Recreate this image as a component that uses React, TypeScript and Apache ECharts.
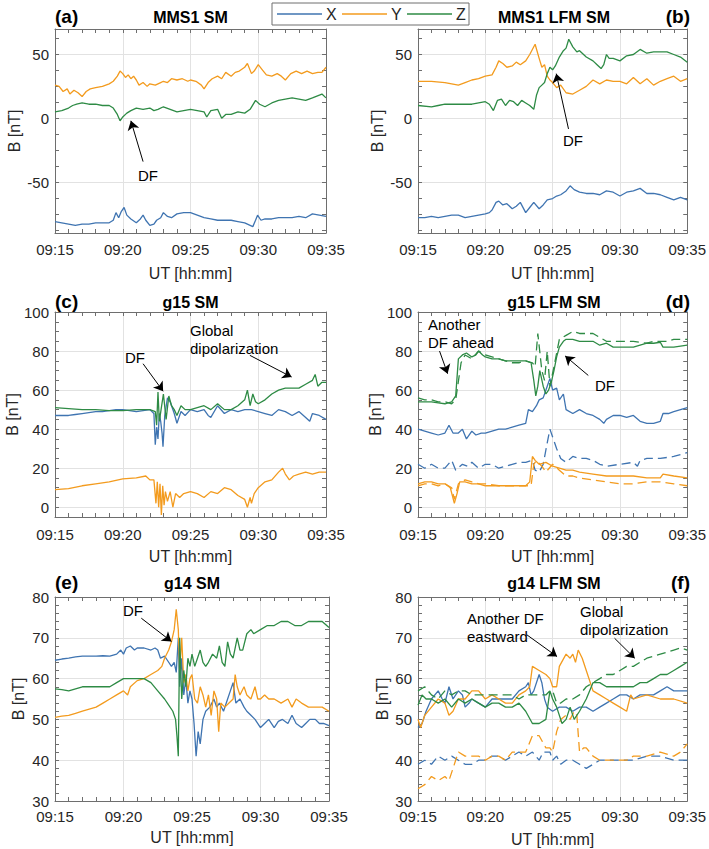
import React, { useEffect, useRef } from "react";
import * as echarts from "echarts";

type P = [number, number][];

// ---- data (time in minutes after 09:00, B in nT) ----
const aX: P = [[15,-81],[15.5,-82],[16,-83],[16.5,-84],[17,-83],[17.5,-83],[18,-82],[18.5,-82],[19,-82],[19.3,-80],[19.5,-74],[19.7,-78],[19.9,-73],[20.1,-70],[20.3,-76],[20.6,-79],[21,-82],[21.3,-79],[21.5,-76],[21.7,-80],[22,-84],[22.3,-83],[22.5,-80],[22.8,-78],[23,-74],[23.3,-77],[23.6,-78],[24,-75],[24.5,-74],[25,-74],[25.5,-76],[26,-78],[26.5,-79],[27,-80],[27.5,-80],[28,-80],[28.5,-81],[29,-82],[29.4,-84],[29.6,-85],[29.8,-80],[29.95,-76],[30.2,-80],[30.5,-79],[31,-79],[31.5,-78],[32,-78],[32.5,-78],[33,-77],[33.5,-78],[34,-75],[34.5,-76],[35,-77]];
const aY: P = [[15,26],[15.3,25],[15.6,21],[15.9,23],[16.1,19],[16.4,22],[16.7,20],[17,17],[17.3,21],[17.6,23],[18,24],[18.5,25],[19,27],[19.3,29],[19.6,33],[19.8,37],[20,35],[20.2,32],[20.4,34],[20.6,31],[20.8,33],[21,30],[21.2,26],[21.5,28],[21.8,25],[22,27],[22.4,26],[22.8,28],[23,29],[23.3,28],[23.6,31],[24,30],[24.4,31],[24.8,29],[25,30],[25.4,29],[25.8,26],[26,23],[26.3,28],[26.6,31],[27,33],[27.3,31],[27.6,36],[28,33],[28.3,36],[28.6,37],[29,40],[29.2,43],[29.5,35],[29.7,37],[30,42],[30.3,38],[30.6,34],[31,33],[31.4,35],[31.7,33],[32,30],[32.4,35],[32.8,37],[33.2,35],[33.6,37],[34,35],[34.4,36],[34.7,36],[35,40]];
const aZ: P = [[15,5],[15.5,6],[16,8],[16.3,10],[16.6,11],[17,12],[17.5,11],[18,11],[18.5,10],[19,10],[19.3,8],[19.6,3],[19.8,-2],[20,1],[20.3,4],[20.6,6],[21,8],[21.5,7],[22,8],[22.3,6],[22.6,7],[23,9],[23.5,7],[24,5],[24.5,6],[25,7],[25.5,6],[26,5],[26.2,1],[26.5,6],[27,7],[27.3,0],[27.6,3],[28,3],[28.5,5],[29,4],[29.4,7],[29.8,14],[30.1,11],[30.5,9],[31,12],[31.5,14],[32,15],[32.5,16],[33,15],[33.5,14],[34,16],[34.7,19],[35,16]];

const bX: P = [[15,-78],[15.5,-78],[16,-77],[16.5,-78],[17,-77],[17.5,-76],[18,-76],[18.5,-78],[19,-77],[19.5,-76],[20,-75],[20.3,-74],[20.5,-72],[20.8,-66],[21,-65],[21.3,-68],[21.6,-67],[22,-71],[22.3,-69],[22.6,-66],[23,-74],[23.3,-70],[23.6,-66],[24,-71],[24.3,-68],[24.6,-64],[25,-63],[25.3,-61],[25.6,-60],[26,-57],[26.3,-53],[26.6,-56],[27,-58],[27.5,-59],[28,-59],[28.5,-60],[29,-57],[29.5,-58],[30,-61],[30.5,-58],[31,-57],[31.5,-55],[32,-59],[32.5,-59],[33,-60],[33.5,-62],[34,-64],[34.5,-62],[35,-64]];
const bY: P = [[15,29],[16,29],[17,28],[17.5,27],[18,26],[18.5,28],[19,30],[19.5,31],[20,33],[20.5,34],[20.8,40],[21,45],[21.3,43],[21.6,40],[22,41],[22.3,44],[22.6,42],[23,45],[23.3,50],[23.7,58],[24,47],[24.2,40],[24.4,42],[24.6,33],[24.8,30],[25,28],[25.3,24],[25.6,26],[26,20],[26.5,19],[27,22],[27.5,25],[28,30],[28.5,27],[29,30],[29.5,29],[30,29],[30.5,27],[31,32],[31.5,27],[32,31],[32.5,26],[33,29],[33.5,31],[34,33],[34.5,29],[35,31]];
const bZ: P = [[15,10],[16,9],[16.5,10],[17,11],[18,11],[19,11],[19.5,12],[20,13],[20.3,11],[20.6,6],[20.9,14],[21.2,15],[21.5,10],[21.8,14],[22.1,13],[22.4,10],[22.7,14],[23,12],[23.3,10],[23.6,7],[23.8,18],[24,24],[24.2,26],[24.4,28],[24.6,35],[24.8,40],[25,38],[25.2,41],[25.5,48],[25.8,53],[26,55],[26.2,62],[26.5,56],[26.8,52],[27,53],[27.5,48],[28,45],[28.3,42],[28.6,39],[28.8,42],[29,50],[29.2,47],[29.5,47],[30,45],[30.5,49],[31,50],[31.5,54],[32,51],[32.5,52],[33,52],[33.5,52],[34,50],[34.5,48],[35,44]];

const cX: P = [[15,47],[15.5,47],[16,47],[16.5,47.5],[17,48],[17.5,48.5],[18,49],[18.5,49],[19,49.5],[19.5,50],[20,50],[20.5,49.5],[21,49],[21.5,49.5],[22,50],[22.3,48],[22.4,32],[22.5,41],[22.6,35],[22.7,48],[22.8,44],[22.9,38],[22.97,31],[23.1,47],[23.3,56],[23.5,54],[23.8,48],[24,43],[24.3,49],[24.6,47],[25,50],[25.5,49],[26,50],[26.3,47],[26.5,46],[27,52],[27.5,48],[28,50],[28.5,49],[29,50],[29.5,50],[30,49],[30.5,48],[31,47],[31.5,50],[32,49],[32.5,47],[33,49],[33.5,46],[33.8,44],[34,48],[34.5,47],[35,45]];
const cY: P = [[15,9],[16,9.5],[17,11],[18,12],[19,13],[20,14.5],[21,15],[21.7,16],[22,14],[22.3,14],[22.45,2],[22.55,13],[22.65,0],[22.75,12],[22.85,-4],[22.95,11],[23.05,1],[23.15,8],[23.3,3],[23.5,8],[23.7,0],[23.9,7],[24.2,5],[24.5,7],[25,8],[25.5,7],[26,5],[26.5,8],[27,7],[27.5,10],[28,9],[28.5,6],[29,4],[29.2,0],[29.4,5],[29.5,2],[29.7,7],[30,10],[30.5,13],[31,14],[31.5,18],[31.8,20],[32,17],[32.3,14],[32.6,16],[33,17],[33.5,18],[34,17],[34.5,18],[35,18]];
const cZ: P = [[15,51],[16,50.5],[17,50],[18,50],[19,49.5],[20,49.5],[21,50],[22,50],[22.4,49],[22.5,42],[22.6,59],[22.7,44],[22.85,51],[23.0,58],[23.2,45],[23.4,57],[23.6,52],[23.8,50],[24,47],[24.3,52],[24.6,50],[25,50],[25.5,51],[26,52],[26.5,50],[27,53],[27.5,50],[28,50],[28.5,52],[29,55],[29.2,60],[29.4,52],[29.6,58],[29.8,54],[30,53],[30.5,55],[31,58],[31.5,60],[32,61],[32.5,61],[33,61],[33.5,63],[34,65],[34.2,68],[34.4,62],[34.7,64],[35,64]];

const dX: P = [[15,40],[15.5,39],[16,38],[16.5,37],[17,38],[17.3,42],[17.6,38],[18,38],[18.3,40],[18.6,35],[19,39],[19.3,37],[19.7,38],[20,38],[20.5,39],[21,40],[21.5,40],[22,41],[22.5,42],[23,43],[23.2,50],[23.5,49],[23.8,52],[24,55],[24.3,56],[24.6,62],[24.8,66],[25,60],[25.3,61],[25.5,55],[25.8,58],[26,50],[26.5,48],[27,50],[27.5,48],[28,47],[28.5,45],[28.8,43],[29,45],[29.5,47],[30,47],[30.5,46],[31,47],[31.5,44],[32,43],[32.5,43],[33,44],[33.2,48],[33.6,48],[34,49],[34.5,50],[35,51]];
const dXm: P = [[15,22],[15.5,20],[16,22],[16.5,20],[17,20],[17.5,24],[17.8,19],[18.3,22],[18.7,21],[19,23],[19.5,20],[20,22],[20.5,22],[21,20],[21.5,21],[22,22],[22.5,23],[23,23],[23.5,24],[23.7,19],[24,18],[24.3,22],[24.6,33],[24.8,40],[25,36],[25.3,30],[25.6,25],[26,23],[26.5,26],[27,25],[27.5,25],[28,24],[28.5,22],[29,21],[30,22],[31,23],[31.3,21],[31.5,24],[32,25],[33,25],[34,26],[35,28]];
const dY: P = [[15,12],[15.5,13],[16,13],[16.5,12],[17,12],[17.4,10],[17.7,2],[17.9,7],[18.1,13],[18.5,13],[19,12],[19.5,12],[20,11],[21,11],[22,11],[23,11],[23.3,13],[23.5,26],[23.7,24],[24,22],[24.5,23],[25,21],[25.5,20],[26,19],[26.5,19],[27,18],[28,17],[29,16],[30,16],[31,16],[32,15],[33,15],[33.2,17],[34,16],[35,15]];
const dYm: P = [[15,11],[15.5,12],[16,12],[16.5,11],[17,12],[17.5,10],[17.7,4],[18,12],[18.5,14],[19,13],[19.5,12],[20,12],[21,11],[22,11],[23,11],[23.4,11],[23.6,22],[23.8,24],[24.2,21],[24.5,18],[25,22],[25.5,19],[26,16],[26.5,16],[27,15],[28,14],[29,13],[30,12],[31,12],[32,13],[33,13],[34,12],[35,11]];
const dZ: P = [[15,54],[15.5,54],[16,54],[16.5,53.5],[17,53],[17.5,54],[17.8,57],[18,76],[18.3,78],[18.6,79],[19,77],[19.3,78],[19.5,80],[19.8,78],[20,77],[20.5,76],[21,76],[21.5,75],[22,75],[22.5,75],[23,75],[23.4,74],[23.6,65],[23.75,57],[23.9,62],[24.05,70],[24.3,62],[24.5,58],[24.7,60],[24.9,64],[25.1,70],[25.3,77],[25.5,82],[25.8,85],[26,86],[26.5,86],[27,85],[27.5,85],[28,85],[28.5,83],[29,84],[29.5,82],[30,82],[31,82],[32,84],[32.5,84],[33,84.5],[33.2,82],[34,82],[35,83]];
const dZm: P = [[15,56],[15.5,55],[16,55],[16.5,54],[17,54],[17.5,53],[17.8,55],[18.2,74],[18.5,78],[19,76],[19.5,80],[20,78],[20.5,77],[21,76],[22,74],[22.5,74],[23,75],[23.5,74],[23.7,72],[23.9,89],[24.2,70],[24.4,65],[24.6,80],[24.8,62],[25.1,72],[25.5,86],[26,88],[26.5,90],[27,89],[27.5,89],[28,89],[28.5,87],[29,85],[30,85],[31,85],[32,84],[32.5,85],[33,85],[33.5,85],[34,86],[35,86]];

const eX: P = [[15,64.5],[15.5,64.8],[16,65],[16.5,65.3],[17,65.5],[17.5,65.5],[18,65.5],[18.5,65.6],[19,65.5],[19.5,66],[19.8,67],[20,66],[20.2,67.5],[20.5,68],[20.8,67],[21,67.5],[21.5,67.5],[22,67],[22.3,67.5],[22.5,67],[22.7,65],[23,65.5],[23.2,64.5],[23.5,63],[23.7,64],[23.85,61.5],[24,70],[24.1,58],[24.25,65],[24.4,56],[24.55,60],[24.7,54],[24.85,57],[25,55],[25.15,49],[25.3,41],[25.45,47],[25.6,44],[25.8,50],[26,52],[26.3,53],[26.6,55],[26.8,53],[27,54],[27.3,52],[27.6,55],[27.8,57],[28,59],[28.2,54],[28.5,55],[28.8,53],[29,52],[29.3,51],[29.6,50],[30,48],[30.3,49],[30.6,50],[31,48],[31.3,49.5],[31.6,50],[32,49],[32.3,51],[32.6,49],[33,48],[33.3,49],[33.6,50],[34,50],[34.3,49],[34.6,49],[35,48.5]];
const eY: P = [[15,50.5],[15.5,50.8],[16,51],[16.5,51.5],[17,52],[17.5,52.5],[18,53],[18.5,54],[19,55],[19.5,56],[20,57],[20.3,56],[20.5,58],[21,59.5],[21.5,60],[22,61],[22.5,62],[22.8,63],[23,65],[23.3,67],[23.5,69],[23.7,72],[23.85,77],[24,72],[24.1,62],[24.25,70],[24.4,59],[24.55,61],[24.7,57],[24.85,60],[25,61],[25.2,55],[25.4,54],[25.6,58],[25.8,56],[26,53],[26.2,56],[26.4,51],[26.6,57],[26.8,55],[26.95,47],[27.1,54],[27.4,53],[27.7,54],[28,55],[28.15,61],[28.3,58],[28.5,56],[28.8,58],[29,56],[29.3,55],[29.6,58],[29.8,55],[30,55],[30.3,56],[30.6,55],[31,55],[31.5,54],[32,55],[32.3,53],[32.6,55],[33,54],[33.5,53],[34,53],[34.5,53],[35,52]];
const eZ: P = [[15,57.5],[15.5,57.3],[16,57],[16.5,57.5],[17,58],[17.5,58],[18,58],[18.5,58],[19,58],[19.5,59],[20,60],[20.5,60],[21,60],[21.5,60],[22,59],[22.5,57],[23,55],[23.3,53.5],[23.6,52],[23.8,50],[23.9,46],[24.0,41],[24.1,70],[24.25,55],[24.4,62],[24.55,58],[24.7,65],[24.85,63],[25,66],[25.2,63],[25.4,65],[25.6,67],[25.8,64],[26,63],[26.2,64],[26.5,66],[26.8,65],[27,68],[27.2,64],[27.4,63],[27.6,69],[27.8,66],[28,65],[28.3,70],[28.5,67],[28.7,67],[29,71],[29.3,72],[29.5,71],[30,72],[30.5,73],[31,73],[31.5,74],[32,74],[32.5,73],[33,73],[33.5,74],[34,74],[34.5,74],[35,72.5]];

const fX: P = [[15,48],[15.3,49],[15.6,52],[16,55],[16.5,57],[16.8,55],[17,54],[17.3,58],[17.6,55],[18,57],[18.3,56],[18.5,53],[18.8,54],[19,55],[19.5,54],[20,53],[20.5,55],[21,55],[21.5,55],[22,55],[22.5,57],[23,58],[23.2,59],[23.4,56],[23.6,57],[24,61],[24.2,59],[24.4,55],[24.6,53],[25,52],[25.5,53],[26,53],[26.5,52],[27,53],[27.5,53],[28,52],[28.5,53],[29,54],[29.5,55],[30,56],[30.5,56],[31,55],[31.5,56],[32,56],[32.5,56],[33,57],[33.5,58],[34,57],[34.5,57],[35,57]];
const fXm: P = [[15,39],[15.5,40],[16,39],[16.5,41],[17,40],[17.5,41],[18,40],[18.5,39],[19,39],[19.5,40],[20,40],[20.5,41],[21,41],[21.5,40],[22,41],[22.5,42],[23,41],[23.5,42],[24,40],[24.3,42],[24.8,42],[25,40],[25.3,41],[25.6,39],[26,40],[26.5,40],[27,39],[27.5,38],[28,39],[28.5,40],[29,40],[30,40],[31,40],[32,41],[33,41],[34,40],[35,40]];
const fY: P = [[15,50],[15.2,48],[15.5,51],[16,53],[16.5,55],[17,54],[17.3,51],[17.6,52],[18,55],[18.5,55],[19,57],[19.5,57],[20,55],[20.5,56],[21,55],[21.5,54],[22,54],[22.5,56],[23,57],[23.3,58],[23.5,63],[24,62],[24.5,61],[24.8,60],[25,58],[25.3,58],[25.5,63],[26,66],[26.3,65],[26.5,66],[26.7,64],[26.9,67],[27.2,65],[27.5,62],[28,57],[28.5,56],[29,55],[29.5,54],[30,53],[30.5,52],[30.8,56],[31,55],[32,56],[33,55],[34,55],[35,54]];
const fYm: P = [[15,33],[15.5,34],[16,36],[16.5,35],[17,36],[17.3,35],[17.6,38],[18,42],[18.5,41],[19,41],[19.5,41],[20,40],[20.5,41],[21,41],[21.5,40],[22,42],[22.5,42],[23,42],[23.5,46],[24,46],[24.5,43],[24.8,43],[25,42],[25.3,47],[25.6,50],[26,51],[26.3,50],[26.6,52],[26.8,51],[27,42],[27.3,43],[27.5,43],[28,41],[28.5,40],[29,40],[29.5,40],[30,40],[30.5,40],[31,41],[32,41],[33,42],[34,41],[34.5,42],[35,44]];
const fZ: P = [[15,53.5],[15.3,56],[15.6,55],[16,55],[16.5,54],[17,55],[17.5,53],[18,55],[18.5,54],[19,55],[19.5,54],[20,53],[20.5,54],[21,54],[21.5,53],[22,53],[22.5,54],[23,52],[23.5,49],[24,49],[24.5,50],[24.8,57],[25,55],[25.3,53],[25.7,49],[26,50],[26.3,53],[26.6,50],[27,52],[27.5,55],[28,59],[28.5,59],[29,58],[29.5,58],[30,58],[30.5,58],[31,58],[31.5,59],[32,59],[32.5,60],[33,61],[33.5,61],[34,62],[34.5,63],[35,64]];
const fZm: P = [[15,57],[15.5,58],[16,56],[16.5,55],[17,57],[17.5,56],[18,57],[18.5,57],[19,56],[20,56],[21,56],[22,56],[22.5,55],[23,56],[23.5,56],[24,56],[24.5,56],[24.8,57],[25,57],[25.3,54],[25.6,54],[26,55],[26.5,55],[27,56],[27.5,58],[28,59],[28.5,60],[29,61],[29.5,61],[30,62],[30.5,63],[31,63],[31.5,64],[32,65],[33,66],[34,67],[34.5,67.5],[35,67]];

const componentNames = ["X", "Y", "Z"];
const timeTicks = [15, 20, 25, 30, 35];

// ---- styles ----
const BLUE = "#3f74b1";
const ORANGE = "#f39b1e";
const GREEN = "#2e8b45";
const AXC = "#6e6e6e";
const TXT = "#262626";
const GRIDC = "#e2e2e2";
const FONT = "Liberation Sans, Arial, Helvetica, sans-serif";

type SeriesDef = { name: string; data: P; color: string; dashed?: boolean };
type Note = { text: string; x: number; y: number; align: "left" | "center" };
type Panel = {
  grid: { left: number; top: number; width: number; height: number };
  ymin: number; ymax: number; ySplit?: number; yInterval?: number; yMinor: number;
  hideMin: boolean; hideMax: boolean;
  yNameGap: number; xNameGap: number; xLabelMargin: number;
  series: SeriesDef[];
  arrows: [[number, number], [number, number]][];
  title: string; titleY: number; letter: string; letterLeft: boolean;
  notes: Note[];
};

const panels: Panel[] = [
  {
    grid: { left: 55, top: 29, width: 271, height: 204 }, ymin: -90, ymax: 70, ySplit: 3, yMinor: 4,
    hideMin: true, hideMax: true, yNameGap: 33, xNameGap: 32, xLabelMargin: 9,
    series: [{ name: "X", data: aX, color: BLUE }, { name: "Y", data: aY, color: ORANGE }, { name: "Z", data: aZ, color: GREEN }],
    arrows: [[[21.5, -34], [20.6, -2]]],
    title: "MMS1 SM", titleY: 17, letter: "(a)", letterLeft: true,
    notes: [{ text: "DF", x: 148, y: 175, align: "center" }],
  },
  {
    grid: { left: 418, top: 29, width: 272, height: 204 }, ymin: -90, ymax: 70, ySplit: 3, yMinor: 4,
    hideMin: true, hideMax: true, yNameGap: 33, xNameGap: 32, xLabelMargin: 9,
    series: [{ name: "X", data: bX, color: BLUE }, { name: "Y", data: bY, color: ORANGE }, { name: "Z", data: bZ, color: GREEN }],
    arrows: [[[26.18, -8.4], [25.27, 35]]],
    title: "MMS1 LFM SM", titleY: 17, letter: "(b)", letterLeft: false,
    notes: [{ text: "DF", x: 573, y: 140, align: "center" }],
  },
  {
    grid: { left: 55, top: 312, width: 271, height: 205 }, ymin: -5, ymax: 100, ySplit: 5, yMinor: 4,
    hideMin: true, hideMax: false, yNameGap: 33, xNameGap: 31, xLabelMargin: 10,
    series: [{ name: "X", data: cX, color: BLUE }, { name: "Y", data: cY, color: ORANGE }, { name: "Z", data: cZ, color: GREEN }],
    arrows: [[[21.5, 73.5], [22.98, 59.4]], [[29.38, 77.8], [32.46, 66.7]]],
    title: "g15 SM", titleY: 302, letter: "(c)", letterLeft: true,
    notes: [
      { text: "DF", x: 135, y: 357, align: "center" },
      { text: "Global", x: 190, y: 330, align: "left" },
      { text: "dipolarization", x: 190, y: 348, align: "left" },
    ],
  },
  {
    grid: { left: 418, top: 312, width: 272, height: 205 }, ymin: -5, ymax: 100, ySplit: 5, yMinor: 4,
    hideMin: true, hideMax: false, yNameGap: 33, xNameGap: 31, xLabelMargin: 10,
    series: [
      { name: "X", data: dX, color: BLUE }, { name: "X", data: dXm, color: BLUE, dashed: true },
      { name: "Y", data: dY, color: ORANGE }, { name: "Y", data: dYm, color: ORANGE, dashed: true },
      { name: "Z", data: dZ, color: GREEN }, { name: "Z", data: dZm, color: GREEN, dashed: true },
    ],
    arrows: [[[16.6, 80], [17.2, 68.4]], [[27.65, 67.5], [25.93, 77.5]]],
    title: "g15 LFM SM", titleY: 302, letter: "(d)", letterLeft: false,
    notes: [
      { text: "Another", x: 428, y: 324, align: "left" },
      { text: "DF ahead", x: 428, y: 342, align: "left" },
      { text: "DF", x: 605, y: 385, align: "center" },
    ],
  },
  {
    grid: { left: 55, top: 597, width: 274, height: 204 }, ymin: 30, ymax: 80, yInterval: 10, yMinor: 5,
    hideMin: false, hideMax: false, yNameGap: 29, xNameGap: 28, xLabelMargin: 8,
    series: [{ name: "X", data: eX, color: BLUE }, { name: "Y", data: eY, color: ORANGE }, { name: "Z", data: eZ, color: GREEN }],
    arrows: [[[21.3, 74.8], [23.5, 69.1]]],
    title: "g14 SM", titleY: 583, letter: "(e)", letterLeft: true,
    notes: [{ text: "DF", x: 133, y: 610, align: "center" }],
  },
  {
    grid: { left: 418, top: 597, width: 272, height: 204 }, ymin: 30, ymax: 80, yInterval: 10, yMinor: 5,
    hideMin: false, hideMax: false, yNameGap: 28, xNameGap: 30, xLabelMargin: 8,
    series: [
      { name: "X", data: fX, color: BLUE }, { name: "X", data: fXm, color: BLUE, dashed: true },
      { name: "Y", data: fY, color: ORANGE }, { name: "Y", data: fYm, color: ORANGE, dashed: true },
      { name: "Z", data: fZ, color: GREEN }, { name: "Z", data: fZm, color: GREEN, dashed: true },
    ],
    arrows: [[[23.1, 70.7], [25.33, 65.4]], [[29.6, 69.9], [31.1, 65]]],
    title: "g14 LFM SM", titleY: 583, letter: "(f)", letterLeft: false,
    notes: [
      { text: "Another DF", x: 467, y: 618, align: "left" },
      { text: "eastward", x: 467, y: 636, align: "left" },
      { text: "Global", x: 580, y: 611, align: "left" },
      { text: "dipolarization", x: 580, y: 629, align: "left" },
    ],
  },
];

function fmtTime(v: number) {
  const m = Math.round(v);
  return timeTicks.includes(m) ? "09:" + String(m).padStart(2, "0") : "";
}

function buildOption() {
  const grids: any[] = [];
  const xAxes: any[] = [];
  const yAxes: any[] = [];
  const series: any[] = [];
  const graphics: any[] = [];

  const tickCommon = { inside: true, length: 4, lineStyle: { color: AXC, width: 1 } };
  const minorCommon = { length: 4, lineStyle: { color: AXC, width: 1 } };

  panels.forEach((p, i) => {
    grids.push({ ...p.grid, show: false });
    const xBase = {
      type: "value", gridIndex: i, min: 15, max: 35, interval: 5,
      axisLine: { show: true, onZero: false, lineStyle: { color: AXC, width: 1 } },
      axisTick: tickCommon,
      minorTick: { show: true, splitNumber: 5, ...minorCommon },
    };
    xAxes.push({
      ...xBase, position: "bottom",
      axisLabel: { formatter: fmtTime, fontSize: 15, color: TXT, fontFamily: FONT, margin: p.xLabelMargin },
      splitLine: { show: true, lineStyle: { color: GRIDC, width: 1 } },
      name: "UT [hh:mm]", nameLocation: "middle", nameGap: p.xNameGap,
      nameTextStyle: { fontSize: 16, color: TXT, fontFamily: FONT },
    });
    xAxes.push({ ...xBase, position: "top", axisLabel: { show: false }, splitLine: { show: false } });

    const yBase: any = {
      type: "value", gridIndex: i, min: p.ymin, max: p.ymax,
      axisLine: { show: true, onZero: false, lineStyle: { color: AXC, width: 1 } },
      axisTick: tickCommon,
      minorTick: { show: true, splitNumber: p.yMinor, ...minorCommon },
    };
    if (p.yInterval) yBase.interval = p.yInterval;
    if (p.ySplit) yBase.splitNumber = p.ySplit;
    yAxes.push({
      ...yBase, position: "left",
      axisLabel: {
        fontSize: 15, color: TXT, fontFamily: FONT, margin: 6,
        showMinLabel: !p.hideMin, showMaxLabel: !p.hideMax,
      },
      splitLine: { show: true, lineStyle: { color: GRIDC, width: 1 } },
      name: "B [nT]", nameLocation: "middle", nameGap: p.yNameGap,
      nameTextStyle: { fontSize: 16, color: TXT, fontFamily: FONT },
    });
    yAxes.push({ ...yBase, position: "right", axisLabel: { show: false }, splitLine: { show: false } });

    p.series.forEach((s, k) => {
      const ser: any = {
        type: "line", name: s.name, xAxisIndex: 2 * i, yAxisIndex: 2 * i,
        data: s.data, showSymbol: false, symbol: "none", silent: true,
        lineStyle: { color: s.color, width: 1.3, type: s.dashed ? [9, 5] : "solid" },
        itemStyle: { color: s.color },
        z: 3,
      };
      if (k === 0) {
        ser.markLine = {
          silent: true, symbol: ["none", "arrow"], symbolSize: 9,
          lineStyle: { color: "#000", width: 1, type: "solid" },
          label: { show: false }, emphasis: { disabled: true },
          data: p.arrows.map((a) => [{ coord: a[0] }, { coord: a[1] }]),
        };
      }
      series.push(ser);
    });

    const g = p.grid;
    graphics.push({
      type: "text", x: g.left + g.width / 2, y: p.titleY,
      style: { text: p.title, font: `bold 16px ${FONT}`, fill: "#000", textAlign: "center", textVerticalAlign: "middle" },
    });
    graphics.push({
      type: "text", x: p.letterLeft ? g.left : g.left + g.width, y: p.titleY - 1,
      style: { text: p.letter, font: `bold 19px ${FONT}`, fill: "#000", textAlign: p.letterLeft ? "left" : "right", textVerticalAlign: "middle" },
    });
    p.notes.forEach((n) => {
      graphics.push({
        type: "text", x: n.x, y: n.y, z: 10,
        style: { text: n.text, font: `15px ${FONT}`, fill: "#000", textAlign: n.align, textVerticalAlign: "middle" },
      });
    });
  });

  // legend box
  graphics.push({
    type: "rect", shape: { x: 272, y: 3, width: 197, height: 22 }, z: 20,
    style: { fill: "#fff", stroke: AXC, lineWidth: 1 },
  });
  const legendColors = [BLUE, ORANGE, GREEN];
  componentNames.forEach((nm, k) => {
    const x0 = 277 + k * 65;
    graphics.push({
      type: "line", z: 21, shape: { x1: x0, y1: 14, x2: x0 + 45, y2: 14 },
      style: { stroke: legendColors[k], lineWidth: 1.5 },
    });
    graphics.push({
      type: "text", z: 21, x: x0 + 49, y: 14,
      style: { text: nm, font: `16px ${FONT}`, fill: TXT, textAlign: "left", textVerticalAlign: "middle" },
    });
  });

  return {
    animation: false,
    backgroundColor: "#fff",
    textStyle: { fontFamily: FONT },
    grid: grids,
    xAxis: xAxes,
    yAxis: yAxes,
    series,
    graphic: graphics,
  };
}

export default function App() {
  const ref = useRef<HTMLDivElement>(null);
  useEffect(() => {
    if (!ref.current) return;
    const chart = echarts.init(ref.current, null, { renderer: "svg" });
    chart.setOption(buildOption() as any);
    return () => chart.dispose();
  }, []);
  return (
    <div
      ref={ref}
      style={{ position: "fixed", left: 0, top: 0, width: 709, height: 849, background: "#fff" }}
    />
  );
}
